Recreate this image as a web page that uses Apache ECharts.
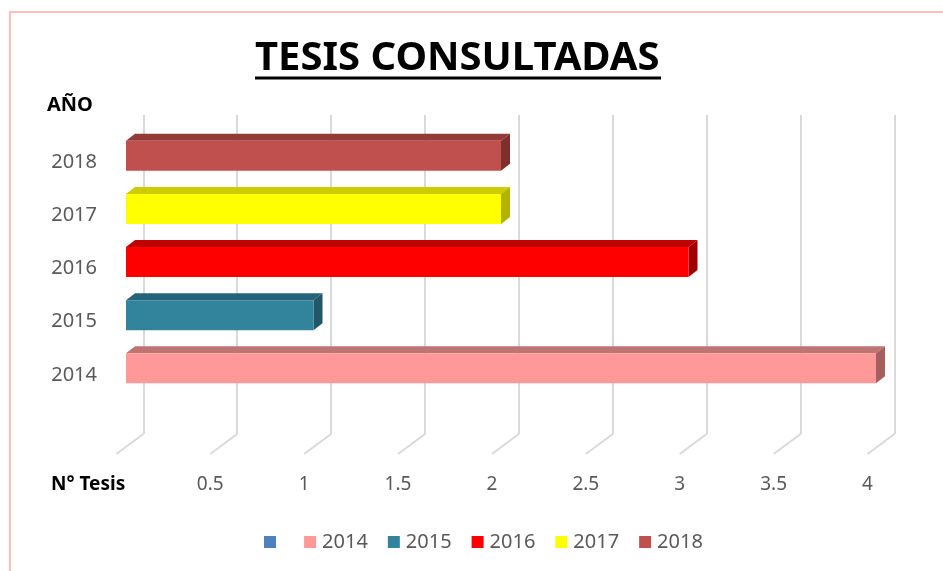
<!DOCTYPE html>
<html>
<head>
<meta charset="utf-8">
<title>Tesis consultadas</title>
<script src="https://cdn.jsdelivr.net/npm/echarts@6/dist/echarts.min.js"></script>
<style>
  html, body { margin: 0; padding: 0; background: #fff; }
  #chart { width: 943px; height: 571px; }
</style>
</head>
<body>
<div id="chart"></div>
<script>
// datos
var years = ["2014", "2015", "2016", "2017", "2018"];
var tesis = [4, 1, 3, 2, 2];
var xTicks = [0, 0.5, 1, 1.5, 2, 2.5, 3, 3.5, 4];

// colores de cada barra (frente, tapa, lado)
var frontColors = ["#FF9999", "#31849B", "#FF0000", "#FFFF00", "#C0504D"];
var topColors = ["#C07373", "#25637A", "#C00000", "#CCCC00", "#943B38"];
var sideColors = ["#A65F5F", "#215868", "#A00000", "#B2B200", "#7F302D"];

var FONT = "'Noto Sans', sans-serif";
var chart = echarts.init(document.getElementById("chart"));

function barSeries(i) {
  return {
    name: years[i],
    type: "custom",
    xAxisIndex: 0,
    yAxisIndex: 0,
    itemStyle: { color: frontColors[i] },
    data: [[tesis[i], years[i]]],
    renderItem: function (params, api) {
      var cat = api.value(1);
      var start = api.coord([0, cat]);
      var end = api.coord([api.value(0), cat]);
      var h = api.size([0, 1])[1] * 0.565;
      var x0 = start[0], x1 = end[0];
      var y0 = start[1] - h / 2, y1 = y0 + h;
      var dx = 9, dy = -7; // profundidad 3d
      return {
        type: "group",
        children: [
          {
            type: "polygon",
            shape: { points: [[x0, y0], [x0 + dx, y0 + dy], [x1 + dx, y0 + dy], [x1, y0]] },
            style: { fill: topColors[i] }
          },
          {
            type: "polygon",
            shape: { points: [[x1, y0], [x1 + dx, y0 + dy], [x1 + dx, y1 + dy], [x1, y1]] },
            style: { fill: sideColors[i] }
          },
          {
            type: "rect",
            shape: { x: x0, y: y0, width: x1 - x0, height: h },
            style: { fill: frontColors[i] }
          }
        ]
      };
    }
  };
}

var series = [
  {
    name: "blank",
    type: "custom",
    xAxisIndex: 0,
    yAxisIndex: 0,
    itemStyle: { color: "#4F81BD" },
    data: [],
    renderItem: function () { return null; }
  },
  {
    // lineas del piso en perspectiva
    name: "piso",
    type: "custom",
    xAxisIndex: 1,
    yAxisIndex: 1,
    silent: true,
    data: xTicks.map(function (t) { return [t, 0]; }),
    renderItem: function (params, api) {
      var p = api.coord([api.value(0), 0]);
      return {
        type: "line",
        shape: { x1: p[0], y1: p[1], x2: p[0] - 27, y2: p[1] + 20 },
        style: { stroke: "#D9D9D9", lineWidth: 2 }
      };
    }
  }
];
for (var i = 0; i < years.length; i++) {
  series.push(barSeries(i));
}

var option = {
  animation: false,
  backgroundColor: "#fff",
  title: {
    text: "TESIS CONSULTADAS",
    left: 255,
    top: 39,
    padding: 0,
    textStyle: { fontFamily: FONT, fontSize: 40, fontWeight: "bold", color: "#000" }
  },
  legend: {
    data: [{ name: "blank", textStyle: { fontSize: 8 } }].concat(years),
    left: 264,
    top: 532,
    padding: 0,
    icon: "rect",
    itemWidth: 12,
    itemHeight: 12,
    itemGap: 20,
    formatter: function (name) { return name === "blank" ? " " : name; },
    textStyle: { fontFamily: FONT, fontSize: 20, color: "#595959", padding: [0, 0, 0, 1] }
  },
  grid: [
    { left: 126, right: 67, top: 129.3, bottom: 176.1 },
    { left: 143.3, right: 48.5, top: 115, bottom: 137 },
    { left: 116.3, right: 75.5, top: 454, bottom: 116 }
  ],
  xAxis: [
    { gridIndex: 0, type: "value", min: 0, max: 4, show: false },
    {
      gridIndex: 1, type: "value", min: 0, max: 4, interval: 0.5,
      axisLine: { show: false }, axisTick: { show: false }, axisLabel: { show: false },
      splitLine: { show: true, lineStyle: { color: "#D9D9D9", width: 2 } }
    },
    {
      gridIndex: 2, type: "value", min: 0, max: 4, interval: 0.5,
      axisLine: { show: false }, axisTick: { show: false }, splitLine: { show: false },
      axisLabel: { showMinLabel: false, margin: 20, fontFamily: FONT, fontSize: 19, color: "#595959" }
    }
  ],
  yAxis: [
    {
      gridIndex: 0, type: "category", data: years,
      axisLine: { show: false }, axisTick: { show: false }, splitLine: { show: false },
      axisLabel: {
        margin: 29, fontFamily: FONT, fontSize: 20, color: "#595959",
        verticalAlign: "top", lineHeight: 13
      }
    },
    { gridIndex: 1, type: "value", min: 0, max: 1, show: false },
    { gridIndex: 2, type: "value", min: 0, max: 1, show: false }
  ],
  graphic: [
    {
      type: "rect", silent: true, z: -1,
      shape: { x: 10, y: 12, width: 1000, height: 600 },
      style: { fill: null, stroke: "#FFBDBD", lineWidth: 2 }
    },
    {
      type: "line", silent: true,
      shape: { x1: 255, y1: 78, x2: 661, y2: 78 },
      style: { stroke: "#000", lineWidth: 3 }
    },
    {
      type: "text", left: 47, top: 95,
      style: { text: "AÑO", font: "bold 20px " + FONT, fill: "#000" }
    },
    {
      type: "text", left: 51, top: 475,
      style: { text: "N° Tesis", font: "bold 19px " + FONT, fill: "#000" }
    }
  ],
  series: series
};

chart.setOption(option);
</script>
</body>
</html>
